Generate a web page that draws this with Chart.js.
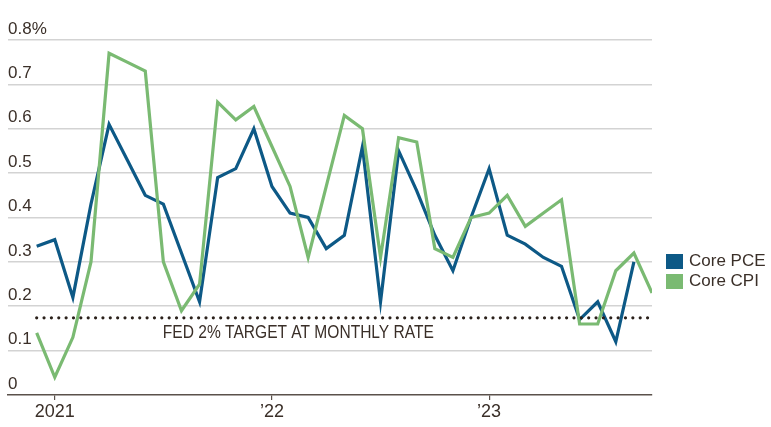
<!DOCTYPE html>
<html>
<head>
<meta charset="utf-8">
<script src="https://cdn.jsdelivr.net/npm/chart.js@4.4.0/dist/chart.umd.min.js"></script>
<style>
  html, body { margin: 0; padding: 0; background: #fff; }
  #wrap { position: relative; width: 771px; height: 427px; }
  #legend { position: absolute; left: 666px; top: 251px; font: 17px 'Liberation Sans', Arial, sans-serif; color: #3a2f28; }
  .item { display: flex; align-items: center; height: 20px; }
  .sw { width: 17px; height: 15px; margin-right: 6px; }
</style>
</head>
<body>
<div id="wrap">
  <canvas id="chart" width="771" height="427"></canvas>
  <div id="legend"></div>
</div>
<script>
// monthly change, Dec 2020 - Oct 2023
const months = [
  '2020-12',
  '2021-01', '2021-02', '2021-03', '2021-04', '2021-05', '2021-06',
  '2021-07', '2021-08', '2021-09', '2021-10', '2021-11', '2021-12',
  '2022-01', '2022-02', '2022-03', '2022-04', '2022-05', '2022-06',
  '2022-07', '2022-08', '2022-09', '2022-10', '2022-11', '2022-12',
  '2023-01', '2023-02', '2023-03', '2023-04', '2023-05', '2023-06',
  '2023-07', '2023-08', '2023-09', '2023-10'
];
const corePCE = [
  0.335,
  0.35, 0.22, 0.43, 0.61, 0.53, 0.45,
  0.43, 0.32, 0.21, 0.49, 0.51, 0.60,
  0.47, 0.41, 0.40, 0.33, 0.36, 0.56,
  0.21, 0.55, 0.46, 0.36, 0.28, 0.40,
  0.51, 0.36, 0.34, 0.31, 0.29, 0.17,
  0.21, 0.12, 0.30
];
const coreCPI = [
  0.14,
  0.04, 0.13, 0.30, 0.77, 0.75, 0.73,
  0.30, 0.19, 0.25, 0.66, 0.62, 0.65,
  0.56, 0.47, 0.31, 0.47, 0.63, 0.60,
  0.31, 0.58, 0.57, 0.33, 0.31, 0.40,
  0.41, 0.45, 0.38, 0.41, 0.44, 0.16,
  0.16, 0.28, 0.32, 0.23
];
const fedTarget = 0.174;   // 2% a year, as a monthly rate
const yTicks = [0, 0.1, 0.2, 0.3, 0.4, 0.5, 0.6, 0.7, 0.8];
const yearLabels = { '2021': '2021', '2022': '\u201922', '2023': '\u201923' };

const TEXT = '#3a2f28';
const BLUE = '#0d5986';
const GREEN = '#7aba72';

const toPoints = arr => arr.map((v, i) => ({ x: i, y: v }));
const yearTicks = months
  .map((m, i) => m.endsWith('-01') ? i : null)
  .filter(i => i !== null);

// legend
const legend = document.getElementById('legend');
[['Core PCE', BLUE], ['Core CPI', GREEN]].forEach(([name, color]) => {
  const row = document.createElement('div');
  row.className = 'item';
  row.innerHTML = `<span class="sw" style="background:${color}"></span><span>${name}</span>`;
  legend.appendChild(row);
});

// narrow caption under the dotted line
const targetLabel = {
  id: 'targetLabel',
  afterDatasetsDraw(chart) {
    const { ctx, scales: { x, y } } = chart;
    const text = 'FED 2% TARGET AT MONTHLY RATE';
    ctx.save();
    ctx.font = "18px 'Liberation Sans', sans-serif";
    ctx.fillStyle = TEXT;
    ctx.textBaseline = 'alphabetic';
    const w = ctx.measureText(text).width;
    const left = x.getPixelForValue(7) - 0.5;
    ctx.translate(left, y.getPixelForValue(fedTarget) + 20);
    ctx.scale(271 / w, 1);
    ctx.fillText(text, 0, 0);
    ctx.restore();
  }
};

new Chart(document.getElementById('chart'), {
  type: 'line',
  data: {
    datasets: [
      {
        label: 'Fed target',
        data: months.map((m, i) => ({ x: i, y: fedTarget })),
        borderColor: '#2b211b',
        borderWidth: 3.2,
        borderDash: [0.01, 7.35],
        borderCapStyle: 'round',
        pointRadius: 0
      },
      {
        label: 'Core CPI',
        data: toPoints(coreCPI),
        borderColor: GREEN,
        borderWidth: 3.2,
        pointRadius: 0,
        borderJoinStyle: 'miter',
        tension: 0
      },
      {
        label: 'Core PCE',
        data: toPoints(corePCE),
        borderColor: BLUE,
        borderWidth: 3.2,
        pointRadius: 0,
        borderJoinStyle: 'miter',
        tension: 0
      }
    ]
  },
  options: {
    responsive: false,
    animation: false,
    layout: { padding: { left: 8, right: 119, top: 40, bottom: 0 } },
    plugins: {
      legend: { display: false },
      tooltip: { enabled: false }
    },
    scales: {
      x: {
        type: 'linear',
        min: -1.585,
        max: months.length - 1,
        afterBuildTicks: scale => {
          scale.ticks = yearTicks.map(v => ({ value: v }));
        },
        afterFit: scale => { scale.height = 32; },
        grid: {
          drawOnChartArea: false,
          drawTicks: true,
          tickLength: 5,
          color: '#5a514b',
          lineWidth: 1.2
        },
        border: { display: true, color: '#5a514b', width: 1.6 },
        ticks: {
          autoSkip: false,
          maxRotation: 0,
          padding: 1,
          color: TEXT,
          font: { family: "'Liberation Sans', sans-serif", size: 18 },
          callback: v => yearLabels[months[v].slice(0, 4)]
        }
      },
      y: {
        min: 0,
        max: 0.8,
        afterBuildTicks: scale => {
          scale.ticks = yTicks.map(v => ({ value: v }));
        },
        afterFit: scale => { scale.width = 0; },
        border: { display: false },
        grid: {
          drawTicks: false,
          color: ctx => ctx.tick && ctx.tick.value === 0 ? 'rgba(0,0,0,0)' : '#d3d3d3',
          lineWidth: 1.6
        },
        ticks: {
          mirror: true,
          padding: 0,
          labelOffset: -11,
          color: TEXT,
          font: { family: "'Liberation Sans', sans-serif", size: 17 },
          callback: v => {
            const r = Math.round(v * 10) / 10;
            if (r === 0) return '0';
            if (r === 0.8) return '0.8%';
            return r.toFixed(1);
          }
        }
      }
    }
  },
  plugins: [targetLabel]
});
</script>
</body>
</html>
